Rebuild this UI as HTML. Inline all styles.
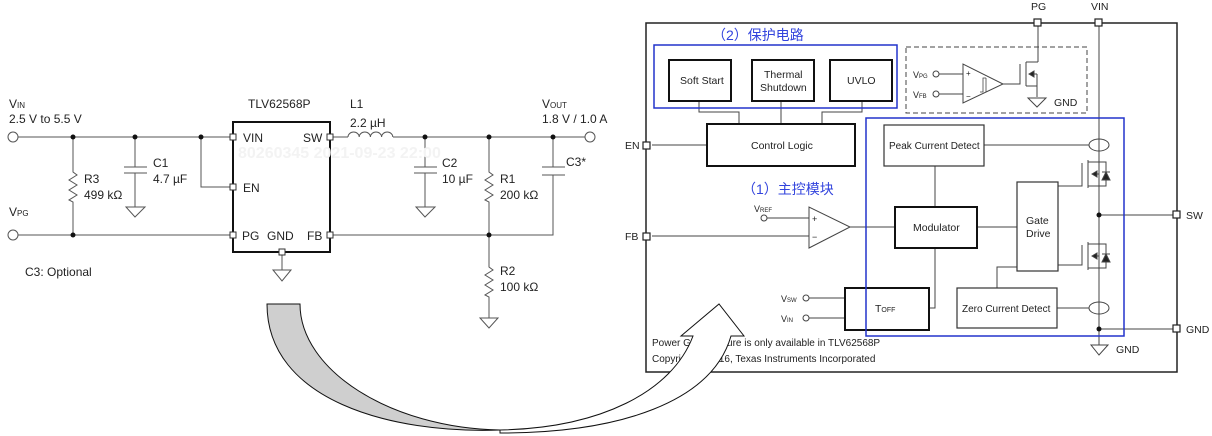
<!DOCTYPE html>
<html><head><meta charset="utf-8"><style>
html,body{margin:0;padding:0;background:#fff;width:1212px;height:436px;overflow:hidden}
svg text{font-family:"Liberation Sans",Arial,sans-serif;fill:#222}
.cjk{font-family:"Liberation Sans","Noto Sans CJK SC",sans-serif;fill:#3344dd}
</style></head><body>
<svg width="1212" height="436" viewBox="0 0 1212 436" xmlns="http://www.w3.org/2000/svg">
<g stroke="#555" stroke-width="1" fill="none">
<circle cx="13" cy="137" r="5" fill="#fff"/>
<circle cx="13" cy="235" r="5" fill="#fff"/>
<line x1="18" y1="137" x2="233" y2="137"/>
<line x1="18" y1="235" x2="233" y2="235"/>
<polyline points="73,137 73,172 77,175 69,180 77,185 69,190 77,195 69,200 73,202 73,235"/>
<line x1="135" y1="137" x2="135" y2="167"/>
<line x1="124" y1="167" x2="147" y2="167"/>
<line x1="124" y1="173" x2="147" y2="173"/>
<line x1="135" y1="173" x2="135" y2="207"/>
<polygon points="126,207 145,207 135,217"/>
<polyline points="201,137 201,187 233,187"/>
<rect x="233" y="122" width="97" height="130" stroke="#111" stroke-width="2"/>
<line x1="282" y1="252" x2="282" y2="270"/>
<polygon points="273,270 291,270 282,281"/>
<line x1="330" y1="137" x2="348" y2="137"/>
<path d="M348,137 a5.6,5 0 0 1 11.2,0 a5.6,5 0 0 1 11.2,0 a5.6,5 0 0 1 11.2,0 a5.6,5 0 0 1 11.2,0"/>
<line x1="393" y1="137" x2="585" y2="137"/>
<circle cx="590" cy="137" r="5" fill="#fff"/>
<line x1="425" y1="137" x2="425" y2="167"/>
<line x1="414" y1="167" x2="437" y2="167"/>
<line x1="414" y1="173" x2="437" y2="173"/>
<line x1="425" y1="173" x2="425" y2="207"/>
<polygon points="416,207 435,207 425,217"/>
<polyline points="489,137 489,172 493,175 485,180 493,185 485,190 493,195 485,200 489,202 489,267 493,270 485,275 493,280 485,285 493,290 485,295 489,297 489,318"/>
<polygon points="480,318 498,318 489,328"/>
<line x1="553" y1="137" x2="553" y2="167"/>
<line x1="542" y1="167" x2="565" y2="167"/>
<line x1="542" y1="175" x2="565" y2="175"/>
<polyline points="553,175 553,235 330,235"/>
</g>
<g fill="#fff" stroke="#333">
<rect x="230" y="134" width="6" height="6"/><rect x="230" y="184" width="6" height="6"/><rect x="230" y="232" width="6" height="6"/>
<rect x="327" y="134" width="6" height="6"/><rect x="327" y="232" width="6" height="6"/><rect x="279" y="249" width="6" height="6"/>
</g>
<g fill="#111">
<circle cx="73" cy="137" r="2.5"/><circle cx="135" cy="137" r="2.5"/><circle cx="201" cy="137" r="2.5"/><circle cx="73" cy="235" r="2.5"/>
<circle cx="425" cy="137" r="2.5"/><circle cx="489" cy="137" r="2.5"/><circle cx="553" cy="137" r="2.5"/><circle cx="489" cy="235" r="2.5"/>
</g>
<text x="238" y="158" font-size="16" font-weight="bold" style="fill:#f3f3f3">80260345 2021-09-23 22:00</text>
<g font-size="12">
<text x="9" y="108">V<tspan font-size="8">IN</tspan></text>
<text x="9" y="123">2.5 V to 5.5 V</text>
<text x="9" y="216">V<tspan font-size="8">PG</tspan></text>
<text x="25" y="276">C3: Optional</text>
<text x="84" y="183">R3</text><text x="84" y="199">499 kΩ</text>
<text x="153" y="167">C1</text><text x="153" y="183">4.7 µF</text>
<text x="248" y="108">TLV62568P</text>
<text x="243" y="142">VIN</text><text x="303" y="142">SW</text><text x="243" y="192">EN</text>
<text x="242" y="240">PG</text><text x="267" y="240">GND</text><text x="307" y="240">FB</text>
<text x="350" y="108">L1</text><text x="350" y="127">2.2 µH</text>
<text x="442" y="167">C2</text><text x="442" y="183">10 µF</text>
<text x="500" y="183">R1</text><text x="500" y="199">200 kΩ</text>
<text x="500" y="275">R2</text><text x="500" y="291">100 kΩ</text>
<text x="566" y="166">C3*</text>
<text x="542" y="108">V<tspan font-size="8">OUT</tspan></text>
<text x="542" y="123">1.8 V / 1.0 A</text>
</g>

<g stroke="#444" fill="none" stroke-width="1">
<rect x="646" y="23" width="531" height="349" stroke="#222" stroke-width="1.5"/>
<line x1="1038" y1="23" x2="1038" y2="62"/>
<line x1="1099" y1="23" x2="1099" y2="345"/>
<polygon points="1091,345 1108,345 1099,355"/>
<rect x="906" y="47" width="181" height="66" stroke-dasharray="5,3"/>
<polygon points="963,64 963,103 1003,84"/>
<path d="M980,92 h3 v-14 h3 M986,92 v-14" stroke-width="0.8"/>
<circle cx="936" cy="74" r="3"/><circle cx="936" cy="94" r="3"/>
<line x1="939" y1="74" x2="963" y2="74"/><line x1="939" y1="94" x2="963" y2="94"/>
<polyline points="1003,84 1020,84 1020,64"/>
<polyline points="1026,62 1026,86"/>
<polyline points="1026,62 1038,62"/><polyline points="1026,86 1037,86 1037,97"/>
<polygon points="1029,74 1034,71 1034,77" fill="#222"/>
<line x1="1034" y1="74" x2="1037" y2="74"/><line x1="1037" y1="74" x2="1037" y2="86"/>
<polygon points="1028,98 1046,98 1037,107"/>
<line x1="652" y1="145" x2="707" y2="145"/>
<polyline points="699,101 699,112 739,112 739,124"/>
<line x1="781" y1="101" x2="781" y2="124"/>
<polyline points="862,101 862,112 822,112 822,124"/>
<line x1="984" y1="145" x2="1089" y2="145"/>
<ellipse cx="1099" cy="145" rx="10" ry="6"/>
<line x1="935" y1="166" x2="935" y2="207"/>
<circle cx="764" cy="218" r="3"/><line x1="767" y1="218" x2="809" y2="218"/>
<line x1="652" y1="236" x2="809" y2="236"/>
<polygon points="809,207 809,248 850,227"/>
<line x1="850" y1="227" x2="895" y2="227"/>
<line x1="977" y1="227" x2="1017" y2="227"/>
<polyline points="935,248 935,308 929,308"/>
<circle cx="806" cy="298" r="3"/><line x1="809" y1="298" x2="845" y2="298"/>
<circle cx="806" cy="318" r="3"/><line x1="809" y1="318" x2="845" y2="318"/>
<polyline points="997,288 997,267 1017,267"/>
<line x1="1057" y1="308" x2="1089" y2="308"/>
<ellipse cx="1099" cy="308" rx="10" ry="6"/>
<line x1="1099" y1="215" x2="1176" y2="215"/>
<line x1="1099" y1="329" x2="1176" y2="329"/>
<polyline points="1058,186 1082,186 1082,163"/>
<line x1="1088" y1="160" x2="1088" y2="188"/>
<polyline points="1088,162 1106,162 1106,186 1088,186"/>
<polygon points="1092,174 1097,171 1097,177" fill="#222"/>
<line x1="1097" y1="174" x2="1099" y2="174"/>
<polygon points="1102,180 1110,180 1106,172" fill="#222"/>
<line x1="1102" y1="172" x2="1110" y2="172"/>
<polyline points="1058,265 1082,265 1082,245"/>
<line x1="1088" y1="242" x2="1088" y2="270"/>
<polyline points="1088,244 1106,244 1106,268 1088,268"/>
<polygon points="1092,256 1097,253 1097,259" fill="#222"/>
<line x1="1097" y1="256" x2="1099" y2="256"/>
<polygon points="1102,262 1110,262 1106,254" fill="#222"/>
<line x1="1102" y1="254" x2="1110" y2="254"/>
</g>
<g fill="#fff" stroke="#111" stroke-width="2">
<rect x="669" y="60" width="62" height="41"/><rect x="752" y="60" width="62" height="41"/><rect x="830" y="60" width="62" height="41"/>
<rect x="707" y="124" width="148" height="42"/>
<rect x="895" y="207" width="82" height="41"/>
<rect x="845" y="288" width="84" height="42"/>
</g>
<g fill="#fff" stroke="#333" stroke-width="1.2">
<rect x="884" y="125" width="100" height="41"/>
<rect x="1017" y="182" width="41" height="89"/>
<rect x="957" y="288" width="100" height="40"/>
</g>
<g fill="none" stroke="#2233cc" stroke-width="1.5">
<rect x="654" y="45" width="243" height="63"/>
<rect x="866" y="118" width="258" height="218"/>
</g>
<g fill="#fff" stroke="#222" stroke-width="1.2">
<rect x="1034" y="19" width="7" height="7"/><rect x="1095" y="19" width="7" height="7"/>
<rect x="643" y="142" width="7" height="7"/><rect x="643" y="233" width="7" height="7"/>
<rect x="1173" y="211" width="7" height="7"/><rect x="1173" y="325" width="7" height="7"/>
</g>
<g fill="#111"><circle cx="1099" cy="215" r="2.5"/><circle cx="1099" cy="329" r="2.5"/></g>
<g font-size="10.5">
<text x="1031" y="10">PG</text><text x="1091" y="10">VIN</text>
<text x="625" y="149">EN</text><text x="625" y="240">FB</text>
<text x="1186" y="219">SW</text><text x="1186" y="333">GND</text>
<text x="1054" y="106">GND</text><text x="1116" y="353">GND</text>
<text x="680" y="84">Soft Start</text>
<text x="764" y="78">Thermal</text><text x="760" y="91">Shutdown</text>
<text x="847" y="84">UVLO</text>
<text x="751" y="149">Control Logic</text>
<text x="889" y="149" font-size="10">Peak Current Detect</text>
<text x="913" y="231">Modulator</text>
<text x="1026" y="224">Gate</text><text x="1026" y="237">Drive</text>
<text x="962" y="312" font-size="10">Zero Current Detect</text>
<text x="875" y="312">T<tspan font-size="7">OFF</tspan></text>
<text x="913" y="78" font-size="9">V<tspan font-size="6">PG</tspan></text>
<text x="913" y="98" font-size="9">V<tspan font-size="6">FB</tspan></text>
<text x="754" y="212" font-size="9">V<tspan font-size="6">REF</tspan></text>
<text x="781" y="302" font-size="9">V<tspan font-size="6">SW</tspan></text>
<text x="781" y="322" font-size="9">V<tspan font-size="6">IN</tspan></text>
<text x="812" y="222" font-size="9">+</text><text x="812" y="240" font-size="9">−</text>
<text x="966" y="76" font-size="8">+</text><text x="966" y="99" font-size="8">−</text>
<text x="652" y="346" font-size="10">Power Good feature is only available in TLV62568P</text>
<text x="652" y="362" font-size="10">Copyright © 2016, Texas Instruments Incorporated</text>
</g>
<text class="cjk" x="712" y="40" font-size="14">（2）保护电路</text>
<text class="cjk" x="742" y="194" font-size="14">（1）主控模块</text>

<path d="M267,304 L300,304 C300,370 390,428 500,430 C390,434 267,400 267,304 Z" fill="#cfcfcf" stroke="#111" stroke-width="1"/>
<path d="M500,430 C600,428 672,392 693,336 L681,336 L719,304 L744,336 L731,336 C712,402 620,433 500,433 Z" fill="#fff" stroke="#111" stroke-width="1"/>
</svg>
</body></html>
